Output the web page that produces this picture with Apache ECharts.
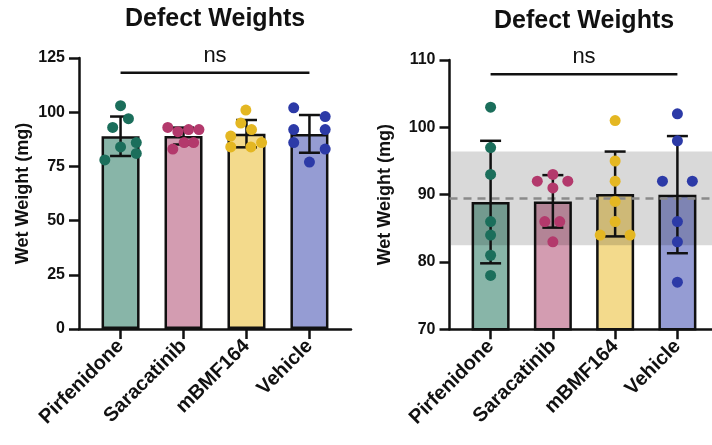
<!DOCTYPE html>
<html>
<head>
<meta charset="utf-8">
<script src="https://cdn.jsdelivr.net/npm/echarts@6/dist/echarts.min.js"></script>
<style>html,body{margin:0;padding:0;background:#fff}#c{width:712px;height:445px}</style>
</head>
<body>
<div id="c"></div>
<script>
// ---- data ----
const categories = ['Pirfenidone', 'Saracatinib', 'mBMF164', 'Vehicle'];
const pirfenidone = [103, 97, 93, 86, 84, 81, 78];
const saracatinib = [93, 92, 92, 91, 86, 86, 83];
const mbmf164 = [101, 95, 92, 89, 86, 84, 84];
const vehicle = [102, 98, 92, 92, 86, 83, 77];
const means = [88.9, 89.0, 90.1, 90.0];
const sds = [9.1, 3.9, 6.3, 8.7];
const refMean = 89.5;
const refBandLow = 82.5;
const refBandHigh = 96.4;
const nsLabel = 'ns';
const leftTicks = [0, 25, 50, 75, 100, 125];
const rightTicks = [70, 80, 90, 100, 110];

// ---- layout (jitter of dots inside each group, in category units) ----
const jitterLeft = [
  [0, 0.125, -0.125, 0.25, 0, 0.25, -0.25],
  [-0.25, 0.08, 0.245, -0.09, 0.01, 0.16, -0.17],
  [-0.01, -0.09, 0.08, -0.25, 0.24, -0.25, 0.07],
  [-0.25, 0.25, -0.25, 0.25, -0.25, 0.25, 0]
];
const jitterRight = [
  [0, 0, 0, 0, 0, 0, 0],
  [0, -0.25, 0.24, 0, -0.13, 0.11, 0],
  [0, 0, 0, 0, 0, -0.24, 0.24],
  [0, 0, -0.24, 0.24, 0, 0, 0]
];
const groups = [pirfenidone, saracatinib, mbmf164, vehicle];
const fillColors = ['#88b5a8', '#d39cb1', '#f3da8c', '#959cd3'];
const dotColors = ['#1b6e5b', '#b3396c', '#e4b722', '#2c3aa7'];
const FONT = 'Liberation Sans, Arial, sans-serif';

const chart = echarts.init(document.getElementById('c'), null, {renderer: 'canvas'});

function xAxisFor(gi) {
  return {
    type: 'value', gridIndex: gi, min: -0.66, max: 3.66,
    splitLine: {show: false},
    axisLine: {show: true, onZero: false, lineStyle: {color: '#111', width: 2.5}},
    axisTick: {show: true, customValues: [0, 1, 2, 3], length: 10, lineStyle: {color: '#111', width: 2.5}},
    axisLabel: {
      customValues: [0, 1, 2, 3], rotate: 45, margin: 14,
      formatter: v => categories[Math.round(v)] || '',
      color: '#111', fontFamily: FONT, fontWeight: 'bold', fontSize: 20
    }
  };
}
function yAxisFor(gi, min, max, interval, gap) {
  return {
    type: 'value', gridIndex: gi, min: min, max: max, interval: interval,
    splitLine: {show: false},
    axisLine: {show: true, onZero: false, lineStyle: {color: '#111', width: 2.5}},
    axisTick: {show: true, length: 10, lineStyle: {color: '#111', width: 2.5}},
    axisLabel: {margin: 14, color: '#111', fontFamily: FONT, fontWeight: 'bold', fontSize: 16},
    name: 'Wet Weight (mg)', nameLocation: 'middle', nameGap: gap,
    nameTextStyle: {color: '#111', fontFamily: FONT, fontWeight: 'bold', fontSize: 18}
  };
}

function errorSeries(gi) {
  return {
    type: 'custom', xAxisIndex: gi, yAxisIndex: gi, z: 6,
    data: means.map((m, i) => [i, m - sds[i], m + sds[i]]),
    renderItem: function (params, api) {
      const x = api.value(0);
      const lo = api.coord([x, api.value(1)]);
      const hi = api.coord([x, api.value(2)]);
      const st = {stroke: '#111', lineWidth: 2.5};
      return {type: 'group', children: [
        {type: 'line', shape: {x1: lo[0], y1: lo[1], x2: hi[0], y2: hi[1]}, style: st},
        {type: 'line', shape: {x1: lo[0] - 10.5, y1: lo[1], x2: lo[0] + 10.5, y2: lo[1]}, style: st},
        {type: 'line', shape: {x1: hi[0] - 10.5, y1: hi[1], x2: hi[0] + 10.5, y2: hi[1]}, style: st}
      ]};
    }
  };
}
function nsSeries(gi, yVal) {
  return {
    type: 'custom', xAxisIndex: gi, yAxisIndex: gi, z: 6, clip: false,
    data: [[0, yVal, 3]],
    renderItem: function (params, api) {
      const a = api.coord([api.value(0), api.value(1)]);
      const b = api.coord([api.value(2), api.value(1)]);
      return {type: 'group', children: [
        {type: 'line', shape: {x1: a[0], y1: a[1], x2: b[0], y2: b[1]}, style: {stroke: '#111', lineWidth: 2.5}},
        {type: 'text', style: {x: (a[0] + b[0]) / 2, y: a[1] - 6, text: nsLabel, align: 'center', verticalAlign: 'bottom',
          fill: '#111', font: '22px ' + FONT}}
      ]};
    }
  };
}
function barSeries(gi) {
  return {
    type: 'bar', xAxisIndex: gi, yAxisIndex: gi, barWidth: 38, z: 2,
    data: means.map((m, i) => ({value: [i, m], itemStyle: {color: fillColors[i]}})),
    itemStyle: {borderColor: '#111', borderWidth: 2.5}
  };
}
function dotSeries(gi, jit) {
  return groups.map((vals, i) => ({
    type: 'scatter', xAxisIndex: gi, yAxisIndex: gi, z: 8, symbolSize: 11,
    itemStyle: {color: dotColors[i], opacity: 1},
    data: vals.map((v, k) => [i + jit[i][k], v])
  }));
}

const option = {
  animation: false,
  backgroundColor: '#fff',
  title: [
    {text: 'Defect Weights', left: 120, top: 2, textStyle: {fontFamily: FONT, fontWeight: 'bold', fontSize: 25, color: '#111'}},
    {text: 'Defect Weights', left: 489, top: 4, textStyle: {fontFamily: FONT, fontWeight: 'bold', fontSize: 25, color: '#111'}}
  ],
  grid: [
    {left: 79, top: 58, width: 272, height: 271, outerBoundsMode: 'none', containLabel: false},
    {left: 449.5, top: 60, width: 269, height: 269.3, outerBoundsMode: 'none', containLabel: false}
  ],
  xAxis: [xAxisFor(0), xAxisFor(1)],
  yAxis: [yAxisFor(0, 0, 125, 25, 47), yAxisFor(1, 70, 110, 10, 55)],
  series: [
    barSeries(0),
    errorSeries(0),
    nsSeries(0, 118.2),
    ...dotSeries(0, jitterLeft),
    barSeries(1),
    {
      // shaded reference band, darkening the bars beneath it
      type: 'custom', xAxisIndex: 1, yAxisIndex: 1, z: 4, clip: true, silent: true,
      data: [[0, refBandLow, refBandHigh]],
      renderItem: function (params, api) {
        const cs = params.coordSys;
        const yLo = api.coord([api.value(0), api.value(1)])[1];
        const yHi = api.coord([api.value(0), api.value(2)])[1];
        return {type: 'rect', shape: {x: cs.x + 1.5, y: yHi, width: cs.width, height: yLo - yHi},
          style: {fill: 'rgba(0,0,0,0.15)'}};
      }
    },
    {
      type: 'line', xAxisIndex: 1, yAxisIndex: 1, z: 5, data: [], symbol: 'none',
      markLine: {silent: true, symbol: 'none', label: {show: false},
        lineStyle: {color: '#8a8a8a', type: [8, 6], width: 2.5}, data: [{yAxis: refMean}]}
    },
    errorSeries(1),
    nsSeries(1, 107.9),
    ...dotSeries(1, jitterRight)
  ]
};
chart.setOption(option);
</script>
</body>
</html>
